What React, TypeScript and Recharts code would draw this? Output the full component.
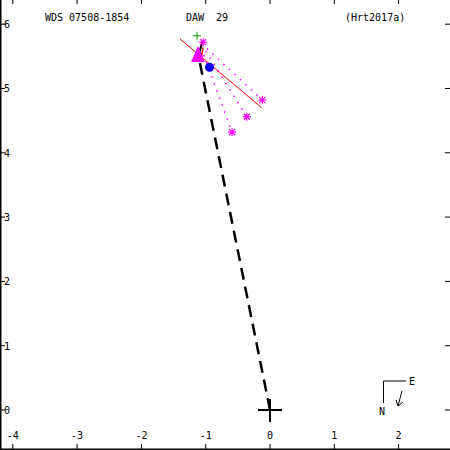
import { ReferenceLine, Scatter, ScatterChart, XAxis, YAxis } from "recharts";

const X_TICKS = [-4, -3, -2, -1, 0, 1, 2];
const Y_TICKS = [0, 1, 2, 3, 4, 5, 6];
const X_DOMAIN: [number, number] = [-4.199, 2.799];
const Y_DOMAIN: [number, number] = [-0.622, 6.376];

const TITLE_WDS = "WDS 07508-1854";
const TITLE_DISC = "DAW  29";
const TITLE_REF = "(Hrt2017a)";

// primary star and companion end of the dashed line
const PRIMARY = [{ x: 0, y: 0 }];
const LAST_POS = { x: -1.115, y: 5.52 };
const TIP_SEG = [
  { x: -1.1, y: 5.55 },
  { x: -1.05, y: 5.74 },
];

// measured positions (asterisks)
const MEAS_X = [-1.04, -0.12, -0.36, -0.59];
const MEAS_Y = [5.72, 4.82, 4.56, 4.32];

// orbit positions matching the measures (start of O-C lines)
const CALC_X = [-0.98, -1.0, -1.03];
const CALC_Y = [5.62, 5.58, 5.52];

const TRIANGLE = [{ x: -1.12, y: 5.52 }];
const BLUE_DOT = [{ x: -0.94, y: 5.33 }];
const GREEN_CROSS = [{ x: -1.135, y: 5.82 }];

const RED_LINE = [
  { x: -1.4, y: 5.77 },
  { x: -0.13, y: 4.7 },
];
const RED_ARC = [
  { x: -1.04, y: 5.64 },
  { x: -1.08, y: 5.41 },
];

const measures = MEAS_X.map((x, i) => ({ x, y: MEAS_Y[i] }));
const ocLines = CALC_X.map((x, i) => [
  { x, y: CALC_Y[i] },
  measures[i + 1],
]);

const FONT = "'DejaVu Sans Mono', monospace";
const MAGENTA = "#ff00ff";

// chart is shifted 1px left so the 1px axis strip falls off-page
function XTick({ x, payload }: any) {
  return (
    <g>
      <line x1={x} x2={x} y1={450} y2={444} stroke="#000" strokeWidth={1} />
      <line x1={x} x2={x} y1={0} y2={4} stroke="#000" strokeWidth={1} />
      <text x={x} y={439} textAnchor="middle" fontFamily={FONT} fontSize={10} fill="#000">
        {String(payload.value)}
      </text>
    </g>
  );
}

function YTick({ y, payload }: any) {
  return (
    <g>
      <line x1={1} x2={6} y1={y} y2={y} stroke="#000" strokeWidth={1} />
      <line x1={446} x2={451} y1={y} y2={y} stroke="#000" strokeWidth={1} />
      <text x={5} y={y + 4} textAnchor="start" fontFamily={FONT} fontSize={10} fill="#000">
        {String(payload.value)}
      </text>
    </g>
  );
}

function BigCross({ cx, cy }: any) {
  return (
    <g stroke="#000" strokeWidth={2}>
      <line x1={cx - 12} x2={cx + 12} y1={cy} y2={cy} />
      <line x1={cx} x2={cx} y1={cy - 11} y2={cy + 12} />
    </g>
  );
}

function SmallCross({ cx, cy }: any) {
  return (
    <g stroke="#00a000" strokeWidth={1}>
      <line x1={cx - 4} x2={cx + 4} y1={cy} y2={cy} />
      <line x1={cx} x2={cx} y1={cy - 4} y2={cy + 4} />
    </g>
  );
}

function Asterisk({ cx, cy }: any) {
  const r = 4;
  const d = 3;
  return (
    <g stroke={MAGENTA} strokeWidth={1.2}>
      <line x1={cx - r} x2={cx + r} y1={cy} y2={cy} />
      <line x1={cx} x2={cx} y1={cy - r} y2={cy + r} />
      <line x1={cx - d} x2={cx + d} y1={cy - d} y2={cy + d} />
      <line x1={cx - d} x2={cx + d} y1={cy + d} y2={cy - d} />
    </g>
  );
}

function Triangle({ cx, cy }: any) {
  return <polygon points={`${cx},${cy - 9} ${cx - 7},${cy + 7} ${cx + 7},${cy + 7}`} fill={MAGENTA} />;
}

function BlueDot({ cx, cy }: any) {
  return <circle cx={cx} cy={cy} r={4.5} fill="#0000ff" />;
}

export default function App() {
  return (
    <div style={{ position: "absolute", left: 0, top: 0, width: 450, height: 450, overflow: "hidden", background: "#fff" }}>
      <div style={{ position: "absolute", left: -1, top: 0 }}>
        <ScatterChart width={451} height={451} margin={{ top: 0, right: 0, bottom: 0, left: 0 }}>
          <XAxis
            type="number"
            dataKey="x"
            domain={X_DOMAIN}
            ticks={X_TICKS}
            interval={0}
            height={1}
            axisLine={false}
            tickLine={false}
            tick={<XTick />}
            allowDataOverflow
          />
          <YAxis
            type="number"
            dataKey="y"
            domain={Y_DOMAIN}
            ticks={Y_TICKS}
            interval={0}
            width={1}
            axisLine={false}
            tickLine={false}
            tick={<YTick />}
            allowDataOverflow
          />
          <ReferenceLine x={X_DOMAIN[0]} stroke="#000" strokeWidth={3} />
          <ReferenceLine y={Y_DOMAIN[0]} stroke="#000" strokeWidth={3} />
          <ReferenceLine segment={RED_LINE} stroke="#ff0000" strokeWidth={1} />
          <ReferenceLine segment={RED_ARC} stroke="#ff0000" strokeWidth={1.5} />
          {ocLines.map((seg, i) => (
            <ReferenceLine
              key={`oc-${i}`}
              segment={seg}
              stroke={MAGENTA}
              strokeWidth={1.5}
              strokeDasharray="1.5 6"
            />
          ))}
          <ReferenceLine segment={TIP_SEG} stroke="#000" strokeWidth={2} />
          <ReferenceLine
            segment={[PRIMARY[0], LAST_POS]}
            stroke="#000"
            strokeWidth={2.5}
            strokeDasharray="12 7"
          />
          <Scatter data={TRIANGLE} shape={<Triangle />} isAnimationActive={false} />
          <Scatter data={BLUE_DOT} shape={<BlueDot />} isAnimationActive={false} />
          <Scatter data={measures} shape={<Asterisk />} isAnimationActive={false} />
          <Scatter data={GREEN_CROSS} shape={<SmallCross />} isAnimationActive={false} />
          <Scatter data={PRIMARY} shape={<BigCross />} isAnimationActive={false} />
        </ScatterChart>
      </div>
      <svg
        width={450}
        height={450}
        style={{ position: "absolute", left: 0, top: 0, pointerEvents: "none" }}
        fontFamily={FONT}
        fontSize={10}
      >
        <text x={45} y={21}>{TITLE_WDS}</text>
        <text x={186} y={21} style={{ whiteSpace: "pre" }}>{TITLE_DISC}</text>
        <text x={345} y={21}>{TITLE_REF}</text>
        <g stroke="#000" strokeWidth={1} fill="none">
          <polyline points="406,381 383.5,381 383.5,403" />
          <line x1={402} y1={391} x2={398} y2={406} />
          <polyline points="396,400 398,406 403,402" />
        </g>
        <text x={409} y={385}>E</text>
        <text x={379} y={415}>N</text>
      </svg>
    </div>
  );
}
